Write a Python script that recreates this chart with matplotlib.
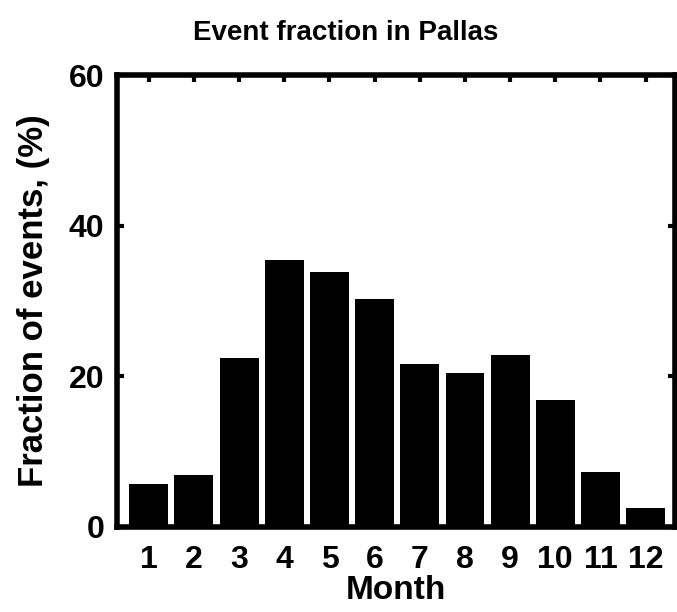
import matplotlib.pyplot as plt

months = list(range(1, 13))
fractions = [5.7, 6.9, 22.4, 35.5, 33.9, 30.3, 21.6, 20.4, 22.8, 16.8, 7.3, 2.5]

plt.rcParams['font.family'] = ['Liberation Sans', 'DejaVu Sans']

fig = plt.figure(figsize=(6.77, 6.12), dpi=100)
ax = fig.add_axes([0.173, 0.139, 0.824, 0.738])

ax.bar(months, fractions, width=0.86, color='black')

ax.set_xlim(0.3, 12.65)
ax.set_ylim(0, 60)
ax.set_xticks(months)
ax.set_yticks([0, 20, 40, 60])

for s in ax.spines.values():
    s.set_linewidth(4)
ax.tick_params(direction='in', top=True, right=True, length=5, width=3,
               labelsize=23, pad=9)
ax.tick_params(axis='x', pad=13)
for lab in ax.get_xticklabels() + ax.get_yticklabels():
    lab.set_fontweight('bold')

ax.set_xlabel('Month', fontsize=24, fontweight='bold', labelpad=0)
ax.set_ylabel('Fraction of events, (%)', fontsize=25, fontweight='bold', labelpad=14)
fig.suptitle('Event fraction in Pallas', x=0.51, y=0.968, fontsize=20, fontweight='bold')

fig.savefig('out.png', dpi=100)
